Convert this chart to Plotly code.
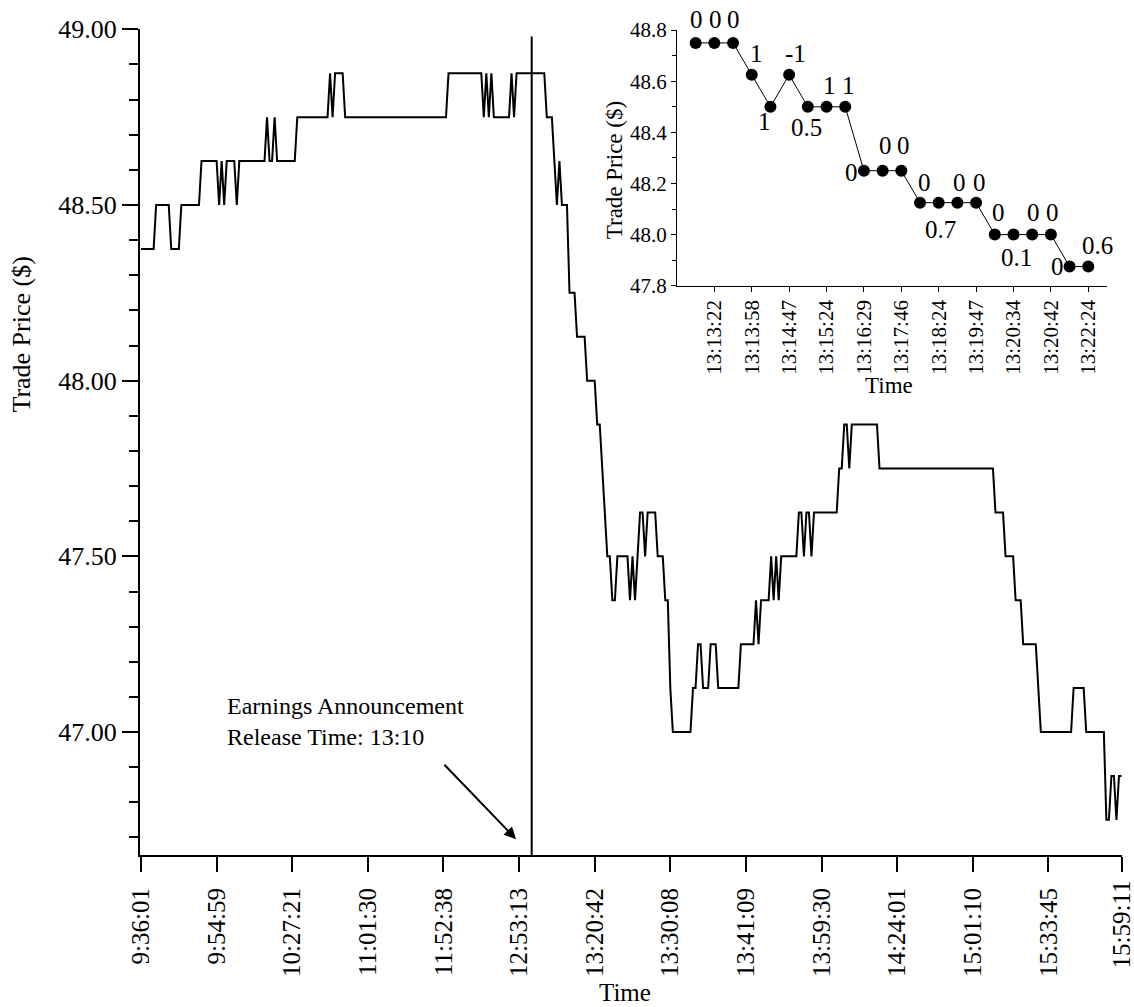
import plotly.graph_objects as go

# ---------------- data ----------------
# Main series: trade prices, run-length encoded (price level, number of consecutive trades)
level_prices = [48.375, 48.5, 48.375, 48.5, 48.625, 48.5, 48.625, 48.5, 48.625, 48.5,
                48.625, 48.75, 48.625, 48.75, 48.625, 48.75, 48.875, 48.75, 48.875, 48.75,
                48.875, 48.75, 48.875, 48.75, 48.875, 48.75, 48.875, 48.75, 48.875, 48.75,
                48.625, 48.5, 48.625, 48.5, 48.25, 48.125, 48.0, 47.875, 47.75, 47.625,
                47.5, 47.375, 47.5, 47.375, 47.5, 47.375, 47.5, 47.625, 47.5, 47.625,
                47.5, 47.375, 47.125, 47.0, 47.125, 47.25, 47.125, 47.25, 47.125, 47.25,
                47.375, 47.25, 47.375, 47.5, 47.375, 47.5, 47.375, 47.5, 47.625, 47.5,
                47.625, 47.5, 47.625, 47.75, 47.875, 47.75, 47.875, 47.75, 47.625, 47.5,
                47.375, 47.25, 47.125, 47.0, 47.125, 47.0, 46.75, 46.875, 46.75, 46.875]
level_counts = [6, 6, 4, 8, 7, 1, 1, 1, 4, 1,
                11, 1, 2, 1, 8, 13, 1, 1, 4, 41,
                14, 1, 1, 1, 1, 7, 1, 1, 12, 3,
                1, 1, 1, 3, 3, 4, 4, 2, 1, 1,
                2, 2, 5, 1, 1, 1, 1, 2, 1, 4,
                3, 2, 1, 8, 2, 2, 3, 3, 9, 6,
                1, 1, 4, 1, 1, 1, 1, 7, 2, 1,
                2, 1, 10, 2, 2, 1, 11, 46, 4, 4,
                3, 6, 1, 13, 5, 8, 2, 2, 1, 2]

time_tick_index = [0, 30, 60, 90, 120, 150, 180, 210, 240, 270, 300, 330, 360, 389]
time_tick_labels = ["9:36:01", "9:54:59", "10:27:21", "11:01:30", "11:52:38", "12:53:13",
                    "13:20:42", "13:30:08", "13:41:09", "13:59:30", "14:24:01", "15:01:10",
                    "15:33:45", "15:59:11"]
main_price_ticks = [47.0, 47.5, 48.0, 48.5, 49.0]
announcement_index = 155  # trade position of the 13:10 release

# Inset: first trades after the announcement
inset_prices = [48.75, 48.75, 48.75, 48.625, 48.5, 48.625, 48.5, 48.5, 48.5, 48.25, 48.25,
                48.25, 48.125, 48.125, 48.125, 48.125, 48.0, 48.0, 48.0, 48.0, 47.875, 47.875]
inset_point_labels = ["0", "0", "0", "1", "1", "-1", "0.5", "1", "1", "0", "0",
                      "0", "0", "0.7", "0", "0", "0", "0.1", "0", "0", "0", "0.6"]
inset_tick_index = [1, 3, 5, 7, 9, 11, 13, 15, 17, 19, 21]
inset_tick_labels = ["13:13:22", "13:13:58", "13:14:47", "13:15:24", "13:16:29", "13:17:46",
                     "13:18:24", "13:19:47", "13:20:34", "13:20:42", "13:22:24"]
inset_price_ticks = [47.8, 48.0, 48.2, 48.4, 48.6, 48.8]

# ---------------- styling ----------------
FONT = "Liberation Serif"
# pixel offsets (dx right, dy down) of each inset point label
label_offsets = [(1, -23), (1, -23), (0, -23), (5, -21), (-6, 15), (6, -21), (-1, 21),
                 (3, -21), (3, -21), (-12, 2), (3, -25), (2, -25), (4, -20), (2, 27),
                 (2, -20), (3, -20), (4, -22), (3, 23), (1, -22), (2, -22), (-12, 0), (9, -21)]

trade_prices = [p for p, c in zip(level_prices, level_counts) for _ in range(c)]
trade_pos = list(range(len(trade_prices)))
inset_pos = list(range(len(inset_prices)))

fig = go.Figure()
fig.add_trace(go.Scatter(x=trade_pos, y=trade_prices, mode="lines",
                         line=dict(color="black", width=2), showlegend=False,
                         xaxis="x", yaxis="y"))
fig.add_trace(go.Scatter(x=inset_pos, y=inset_prices, mode="lines+markers",
                         line=dict(color="black", width=1),
                         marker=dict(color="black", size=12),
                         showlegend=False, xaxis="x2", yaxis="y2"))

annotations = []
for i, (lab, (dx, dy)) in enumerate(zip(inset_point_labels, label_offsets)):
    annotations.append(dict(x=inset_pos[i], y=inset_prices[i], xref="x2", yref="y2",
                            text=lab, showarrow=False, xshift=dx, yshift=-dy,
                            xanchor="center", yanchor="middle",
                            font=dict(family=FONT, size=25, color="black")))

# last main tick label drawn as an annotation so it is not hidden at the page edge
annotations.append(dict(x=time_tick_index[-1], y=-0.0303, xref="x", yref="paper",
                        text=time_tick_labels[-1], textangle=-90, showarrow=False,
                        xanchor="center", yanchor="top", borderpad=0,
                        font=dict(family=FONT, size=25, color="black")))

# axis titles and the release-time note
annotations += [
    dict(x=-0.1202, y=0.63, xref="paper", yref="paper", text="Trade Price ($)",
         textangle=-90, showarrow=False, xanchor="center", yanchor="middle",
         font=dict(family=FONT, size=26, color="black")),
    dict(x=0.4939, y=-0.167, xref="paper", yref="paper", text="Time", showarrow=False,
         xanchor="center", yanchor="middle",
         font=dict(family=FONT, size=25, color="black")),
    dict(x=0.7627, y=0.569, xref="paper", yref="paper", text="Time", showarrow=False,
         xanchor="center", yanchor="middle",
         font=dict(family=FONT, size=23, color="black")),
    dict(x=0.4827, y=0.829, xref="paper", yref="paper", text="Trade Price ($)",
         textangle=-90, showarrow=False, xanchor="center", yanchor="middle",
         font=dict(family=FONT, size=23, color="black")),
    dict(x=0.087, y=0.162, xref="paper", yref="paper",
         text="Earnings Announcement<br>Release Time: 13:10", showarrow=False,
         xanchor="left", yanchor="middle", align="left",
         font=dict(family=FONT, size=24, color="black")),
    dict(x=148.8, y=46.695, xref="x", yref="y", ax=119.8, ay=46.911, axref="x", ayref="y",
         text="", showarrow=True, arrowhead=2, arrowsize=1.2, arrowwidth=2,
         arrowcolor="black", standoff=0),
]

fig.add_shape(type="line", xref="x", yref="y", x0=announcement_index, x1=announcement_index,
              y0=46.65, y1=48.98, line=dict(color="black", width=2))

shown_tick_text = time_tick_labels[:-1] + [""]

fig.update_layout(
    width=1134, height=1007,
    margin=dict(l=140, r=12, t=29, b=152),
    paper_bgcolor="white", plot_bgcolor="rgba(0,0,0,0)",
    font=dict(family=FONT, color="black"),
    annotations=annotations,
    xaxis=dict(range=[-0.4, 389.2], tickmode="array", tickvals=time_tick_index,
               ticktext=shown_tick_text, tickangle=-90, ticks="outside", ticklen=15,
               tickwidth=2, tickcolor="black", showline=True, linewidth=2, linecolor="black",
               showgrid=False, zeroline=False, automargin=False,
               ticklabelstandoff=6, tickfont=dict(family=FONT, size=25)),
    yaxis=dict(range=[46.65, 49.001], tickmode="array", tickvals=main_price_ticks,
               tickformat=".2f", ticks="outside", ticklen=16, tickwidth=2, tickcolor="black",
               showline=True, linewidth=2, linecolor="black", showgrid=False, zeroline=False,
               automargin=False, tickfont=dict(family=FONT, size=26),
               minor=dict(dtick=0.1, tick0=46.0, ticks="outside", ticklen=9, tickwidth=2,
                          tickcolor="black", showgrid=False)),
    xaxis2=dict(domain=[0.5468, 0.9847], anchor="y2", range=[-1, 22], tickmode="array",
                tickvals=inset_tick_index, ticktext=inset_tick_labels, tickangle=-90,
                ticks="outside", ticklen=5, tickwidth=1, tickcolor="black", showline=True,
                linewidth=1, linecolor="black", showgrid=False, zeroline=False,
                automargin=False, tickfont=dict(family=FONT, size=21)),
    yaxis2=dict(domain=[0.6892, 0.9988], anchor="x2", range=[47.8, 48.8005], tickmode="array",
                tickvals=inset_price_ticks, tickformat=".1f", ticks="outside", ticklen=5,
                tickwidth=1, tickcolor="black", showline=True, linewidth=1, linecolor="black",
                showgrid=False, zeroline=False, automargin=False,
                tickfont=dict(family=FONT, size=21),
                minor=dict(dtick=0.1, tick0=47.8, ticks="outside", ticklen=4, tickwidth=1,
                           tickcolor="black", showgrid=False)),
)

fig.write_html("out.html", config={"displayModeBar": False},
               post_script="document.body.style.margin='0px';")
